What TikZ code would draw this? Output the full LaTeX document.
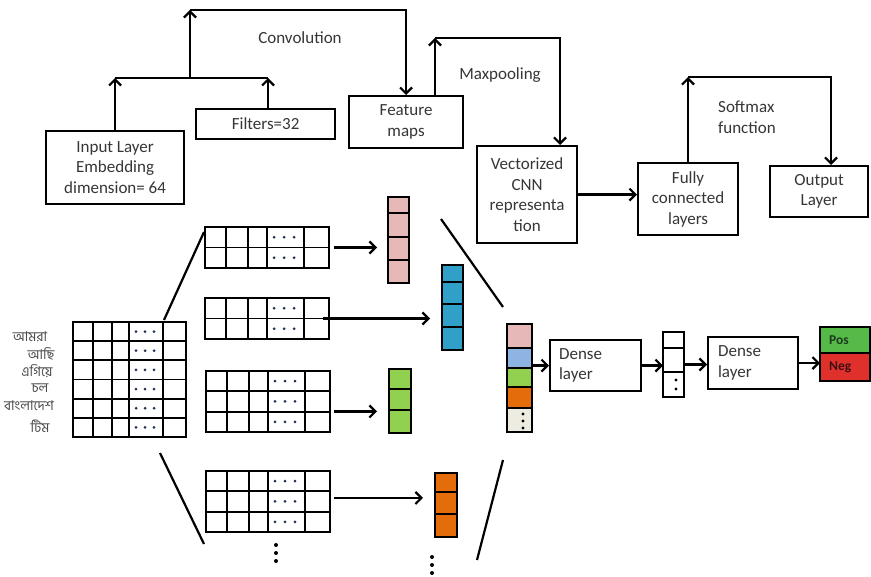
\documentclass[tikz,border=0pt]{standalone}
\usepackage{fontspec}
\setmainfont{Carlito}
\newfontfamily\bnfont[Script=Bengali]{Hind Siliguri}
\usetikzlibrary{arrows.meta}
\definecolor{txt}{HTML}{363636}
\definecolor{bntxt}{HTML}{4A4A4A}
\definecolor{cpink}{HTML}{E6B9B8}
\definecolor{cteal}{HTML}{31A0C8}
\definecolor{clblue}{HTML}{8EB4E3}
\definecolor{cgreen}{HTML}{92D050}
\definecolor{corange}{HTML}{E46C0A}
\definecolor{cbeige}{HTML}{EEECE1}
\definecolor{cpos}{HTML}{56BA48}
\definecolor{cneg}{HTML}{E0302C}
\definecolor{cdot}{HTML}{1F3050}
\definecolor{postxt}{HTML}{1E3A1E}
\definecolor{negtxt}{HTML}{401010}
\tikzset{
 box/.style={draw=black,line width=2.2pt,fill=white,inner sep=0pt,anchor=north west,align=center,text=txt,font=\fontsize{17}{20.5}\selectfont},
 lbl/.style={text=txt,font=\fontsize{17}{20.5}\selectfont,inner sep=0pt},
 arr/.style={line width=2.2pt,-{Straight Barb[length=6pt,width=12pt]}},
 plain/.style={line width=2.2pt},
 gl/.style={line width=1.9pt},
 vcell/.style={line width=2pt,draw=black},
 holder/.style={inner sep=0pt,outer sep=0pt,anchor=north west},
 bn/.style={text=bntxt,font=\bnfont\fontsize{13.5}{14}\selectfont,inner sep=0pt},
 mdot/.style={fill=cdot,draw=none},
 bdot/.style={fill=black,draw=none},
 pnlbl/.style={font=\bfseries\fontsize{13.5}{13.5}\selectfont,inner sep=0pt,anchor=west},
}
\newcommand\mgrid[5]{%
  \node[holder,minimum width=124pt,minimum height={#4*#5}] (#1) at (#2,#3) {};
  \begin{scope}[shift={(#2,#3)}]
    \draw[gl] (0,0) rectangle (124,{#4*#5});
    \foreach \cx in {21,43,62,99} \draw[gl] (\cx,0) -- (\cx,{#4*#5});
    \foreach \r in {1,...,#4} {
      \ifnum\r<#4 \draw[gl] (0,{\r*#5}) -- (124,{\r*#5}); \fi
      \foreach \dx in {69,79,89} \fill[mdot] (\dx,{(\r-0.5)*#5}) circle (1.5pt);
    }
  \end{scope}}
\begin{document}
\begin{tikzpicture}[x=1pt,y=-1pt]
\fill[white] (0,0) rectangle (871,577);
\useasboundingbox (0,0) rectangle (871,577);

% ---------- top flow ----------
\node[box,minimum width=138pt,minimum height=73pt] (inp) at (45,130) {Input Layer\\Embedding\\dimension= 64};
\node[box,minimum width=139pt,minimum height=30pt] (fil) at (195,108) {Filters=32};
\node[box,minimum width=114pt,minimum height=52pt] (fm) at (348,95) {Feature\\maps};
\node[box,minimum width=100pt,minimum height=97pt] (vec) at (476,145) {Vectorized\\CNN\\representa\\tion};
\node[box,minimum width=100pt,minimum height=72pt] (fc) at (637,162) {Fully\\connected\\layers};
\node[box,minimum width=98pt,minimum height=51pt] (out) at (769,165) {Output\\Layer};

\node[lbl] (conv) at (300,38) {Convolution};
\node[lbl] (maxp) at (500,75) {Maxpooling};
\node[lbl,align=left,anchor=west] (soft) at (718,117) {Softmax\\function};

\coordinate (cj) at (190,78);
\coordinate (ct) at (190,10);
\draw[arr] (inp.north) -- (inp.north |- cj);
\draw[arr] ([xshift=2.5pt]fil.north) -- ([xshift=2.5pt]fil.north |- cj);
\draw[plain] (inp.north |- cj) -- ([xshift=2.5pt]fil.north |- cj);
\draw[arr] (cj) -- (ct);
\draw[arr] (ct) -- (ct -| fm.north) -- (fm.north);

\coordinate (mt) at (435,38);
\coordinate (mr) at (560,38);
\draw[arr] (fm.north -| mt) -- (mt);
\draw[arr] (mt) -- (mr) -- (mr |- vec.north);

\coordinate (st) at (688,77);
\coordinate (sr) at (831,77);
\draw[arr] (fc.north -| st) -- (st);
\draw[arr] (st) -- (sr) -- (sr |- out.north);

\draw[arr] (vec.east) -- (vec.east -| fc.west);

% ---------- words ----------
\node[bn] (w1) at (30,337) {আমরা};
\node[bn] (w2) at (41,354) {আছি};
\node[bn] (w3) at (37,371) {এগিয়ে};
\node[bn] (w4) at (40,388) {চল};
\node[bn] (w5) at (29,406) {বাংলাদেশ};
\node[bn] (w6) at (40,426) {টিম};

% ---------- input matrix ----------
\node[holder,minimum width=113pt,minimum height=115pt] (im) at (73,322) {};
\begin{scope}[shift={(73,322)}]
 \draw[gl] (0,0) rectangle (113,115);
 \foreach \cx in {20,39,56,90} \draw[gl] (\cx,0) -- (\cx,115);
 \foreach \r in {1,...,5} \draw[gl] (0,{\r*115/6}) -- (113,{\r*115/6});
 \foreach \r in {1,...,6} \foreach \dx in {63,72,81} \fill[mdot] (\dx,{(\r-0.5)*115/6}) circle (1.5pt);
\end{scope}

\draw[plain] (164,320) -- (204,232);
\draw[plain] (160,453) -- (204,544);
\draw[plain] (441,219) -- (503,307);
\draw[plain] (503,460) -- (477,560);

% ---------- filter grids ----------
\mgrid{ma}{205}{227}{2}{20.5}
\mgrid{mb}{205}{298}{2}{20.5}
\mgrid{mc}{206}{371}{3}{20.33}
\mgrid{md}{206}{471}{3}{20.33}

% ---------- pooled vectors ----------
\node[holder,minimum width=21pt,minimum height=86pt] (pk) at (388,197) {};
\foreach \a/\b in {197/213,213/237,237/260,260/283} \draw[vcell,fill=cpink] (388,\a) rectangle (409,\b);
\node[holder,minimum width=21pt,minimum height=85pt] (bl) at (442,265) {};
\foreach \a/\b in {265/282,282/304,304/327,327/350} \draw[vcell,fill=cteal] (442,\a) rectangle (463,\b);
\node[holder,minimum width=22pt,minimum height=64pt] (gr) at (389,369) {};
\foreach \a/\b in {369/389,389/410,410/433} \draw[vcell,fill=cgreen] (389,\a) rectangle (411,\b);
\node[holder,minimum width=22pt,minimum height=64pt] (og) at (435,473) {};
\foreach \a/\b in {473/492,492/514,514/537} \draw[vcell,fill=corange] (435,\a) rectangle (457,\b);

\draw[arr] ([xshift=5pt]ma.east) -- ([xshift=-11pt]ma.east -| pk.west);
\draw[arr] ([xshift=-6pt]mb.east) -- ([xshift=-12pt]mb.east -| bl.west);
\draw[arr] ([xshift=4pt,yshift=-10pt]mc.east) -- ([xshift=-12pt,yshift=-10pt]mc.east -| gr.west);
\draw[arr] ([xshift=4pt,yshift=3.5pt]md.east) -- ([xshift=-12pt,yshift=3.5pt]md.east -| og.west);

\foreach \yy in {545,553,561} \fill[bdot] (276,\yy) circle (2pt);
\foreach \yy in {557,565,573} \fill[bdot] (432,\yy) circle (2pt);

% ---------- concatenated vector ----------
\node[holder,minimum width=25pt,minimum height=108pt] (cv) at (507,324) {};
\draw[vcell,fill=cpink] (507,324) rectangle (532,348);
\draw[vcell,fill=clblue] (507,348) rectangle (532,368);
\draw[vcell,fill=cgreen] (507,368) rectangle (532,387);
\draw[vcell,fill=corange] (507,387) rectangle (532,408);
\draw[vcell,fill=cbeige] (507,408) rectangle (532,432);
\foreach \yy in {414,421,428} \fill[bdot] (523,\yy) circle (1.7pt);

% ---------- dense part ----------
\node[box,minimum width=91pt,minimum height=51pt,text width=73pt,align=left] (d1) at (549,339) {Dense\\layer};
\node[holder,minimum width=21pt,minimum height=65pt] (sv) at (663,332) {};
\foreach \a/\b in {332/348,348/372,372/397} \draw[vcell,fill=white] (663,\a) rectangle (684,\b);
\foreach \yy in {380,389} \fill[bdot] (676,\yy) circle (1.7pt);
\node[box,minimum width=90pt,minimum height=52pt,text width=70pt,align=left] (d2) at (707,336) {Dense\\layer};

\node[holder,minimum width=50pt,minimum height=54pt] (pn) at (820,327) {};
\draw[vcell,fill=cpos] (820,327) rectangle (869.5,353);
\draw[vcell,fill=cneg] (820,353) rectangle (869.5,381);
\node[pnlbl,text=postxt] (pos) at (829,340) {Pos};
\node[pnlbl,text=negtxt] (neg) at (829,367) {Neg};

\draw[arr] (d1.west -| cv.east) -- (d1.west);
\draw[arr] (d1.east) -- (d1.east -| sv.west);
\draw[arr] (sv.east) -- (sv.east -| d2.west);
\draw[arr] (d2.east) -- (d2.east -| pn.west);
\end{tikzpicture}
\end{document}
